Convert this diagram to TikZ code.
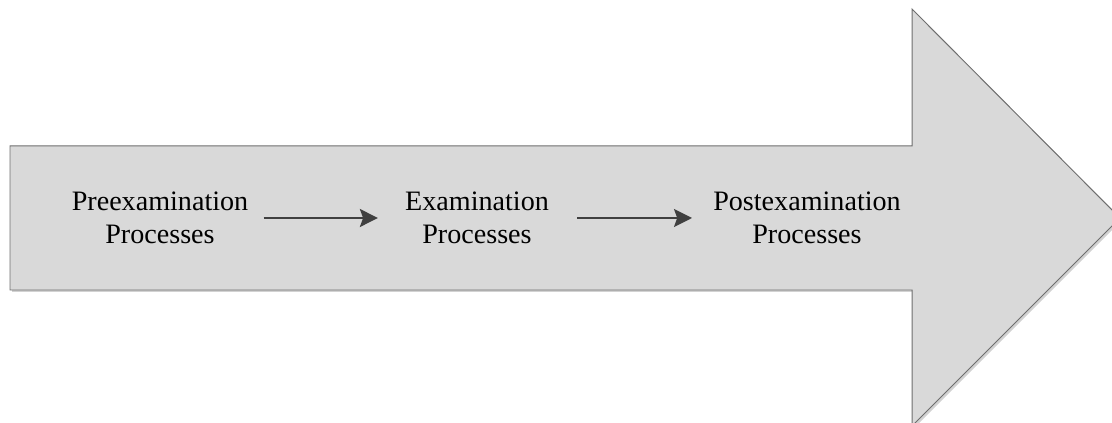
\documentclass[tikz,border=0pt]{standalone}
\usepackage{fontspec}
\setmainfont{Liberation Serif}
\usepackage{tikz}
\usetikzlibrary{positioning,arrows.meta,shadows}
\definecolor{bandfill}{HTML}{D9D9D9}
\definecolor{bandline}{HTML}{6E6E6E}
\definecolor{flowgray}{HTML}{404040}
\tikzset{
  stage/.style={align=center,inner sep=0pt,font=\fontsize{20}{23}\selectfont},
  flow/.style={draw=flowgray,line width=1.4pt,-{Stealth[length=0.45cm,width=0.45cm,inset=0.08cm]}}
}

\begin{document}
\begin{tikzpicture}
      \useasboundingbox (0,0) rectangle (27.8,10.575);
      \clip (0,0) rectangle (27.8,10.575);
      \fill[gray!35] (0.3,6.875) -- (22.85,6.875) -- (22.85,10.3) -- (28.05,5.075) -- (22.85,-0.125) -- (22.85,3.275) -- (0.3,3.275) -- cycle;
      \draw[bandline,fill=bandfill,line width=0.7pt] (0.25,6.925) -- (22.8,6.925) -- (22.8,10.35) -- (28.0,5.125) -- (22.8,-0.075) -- (22.8,3.325) -- (0.25,3.325) -- cycle;
      \node[stage] (Pre) at (4.0,5.125) {Preexamination\\Processes};
      \node[stage,on grid,right=7.925cm of Pre] (Exam) {Examination\\Processes};
      \node[stage,on grid,right=8.25cm of Exam] (Post) {Postexamination\\Processes};
      \draw[flow,shorten <=0.375cm,shorten >=0.675cm] (Pre) -- (Exam);
      \draw[flow,shorten <=0.7cm,shorten >=0.525cm] (Exam) -- (Post);
    \end{tikzpicture}
\end{document}
